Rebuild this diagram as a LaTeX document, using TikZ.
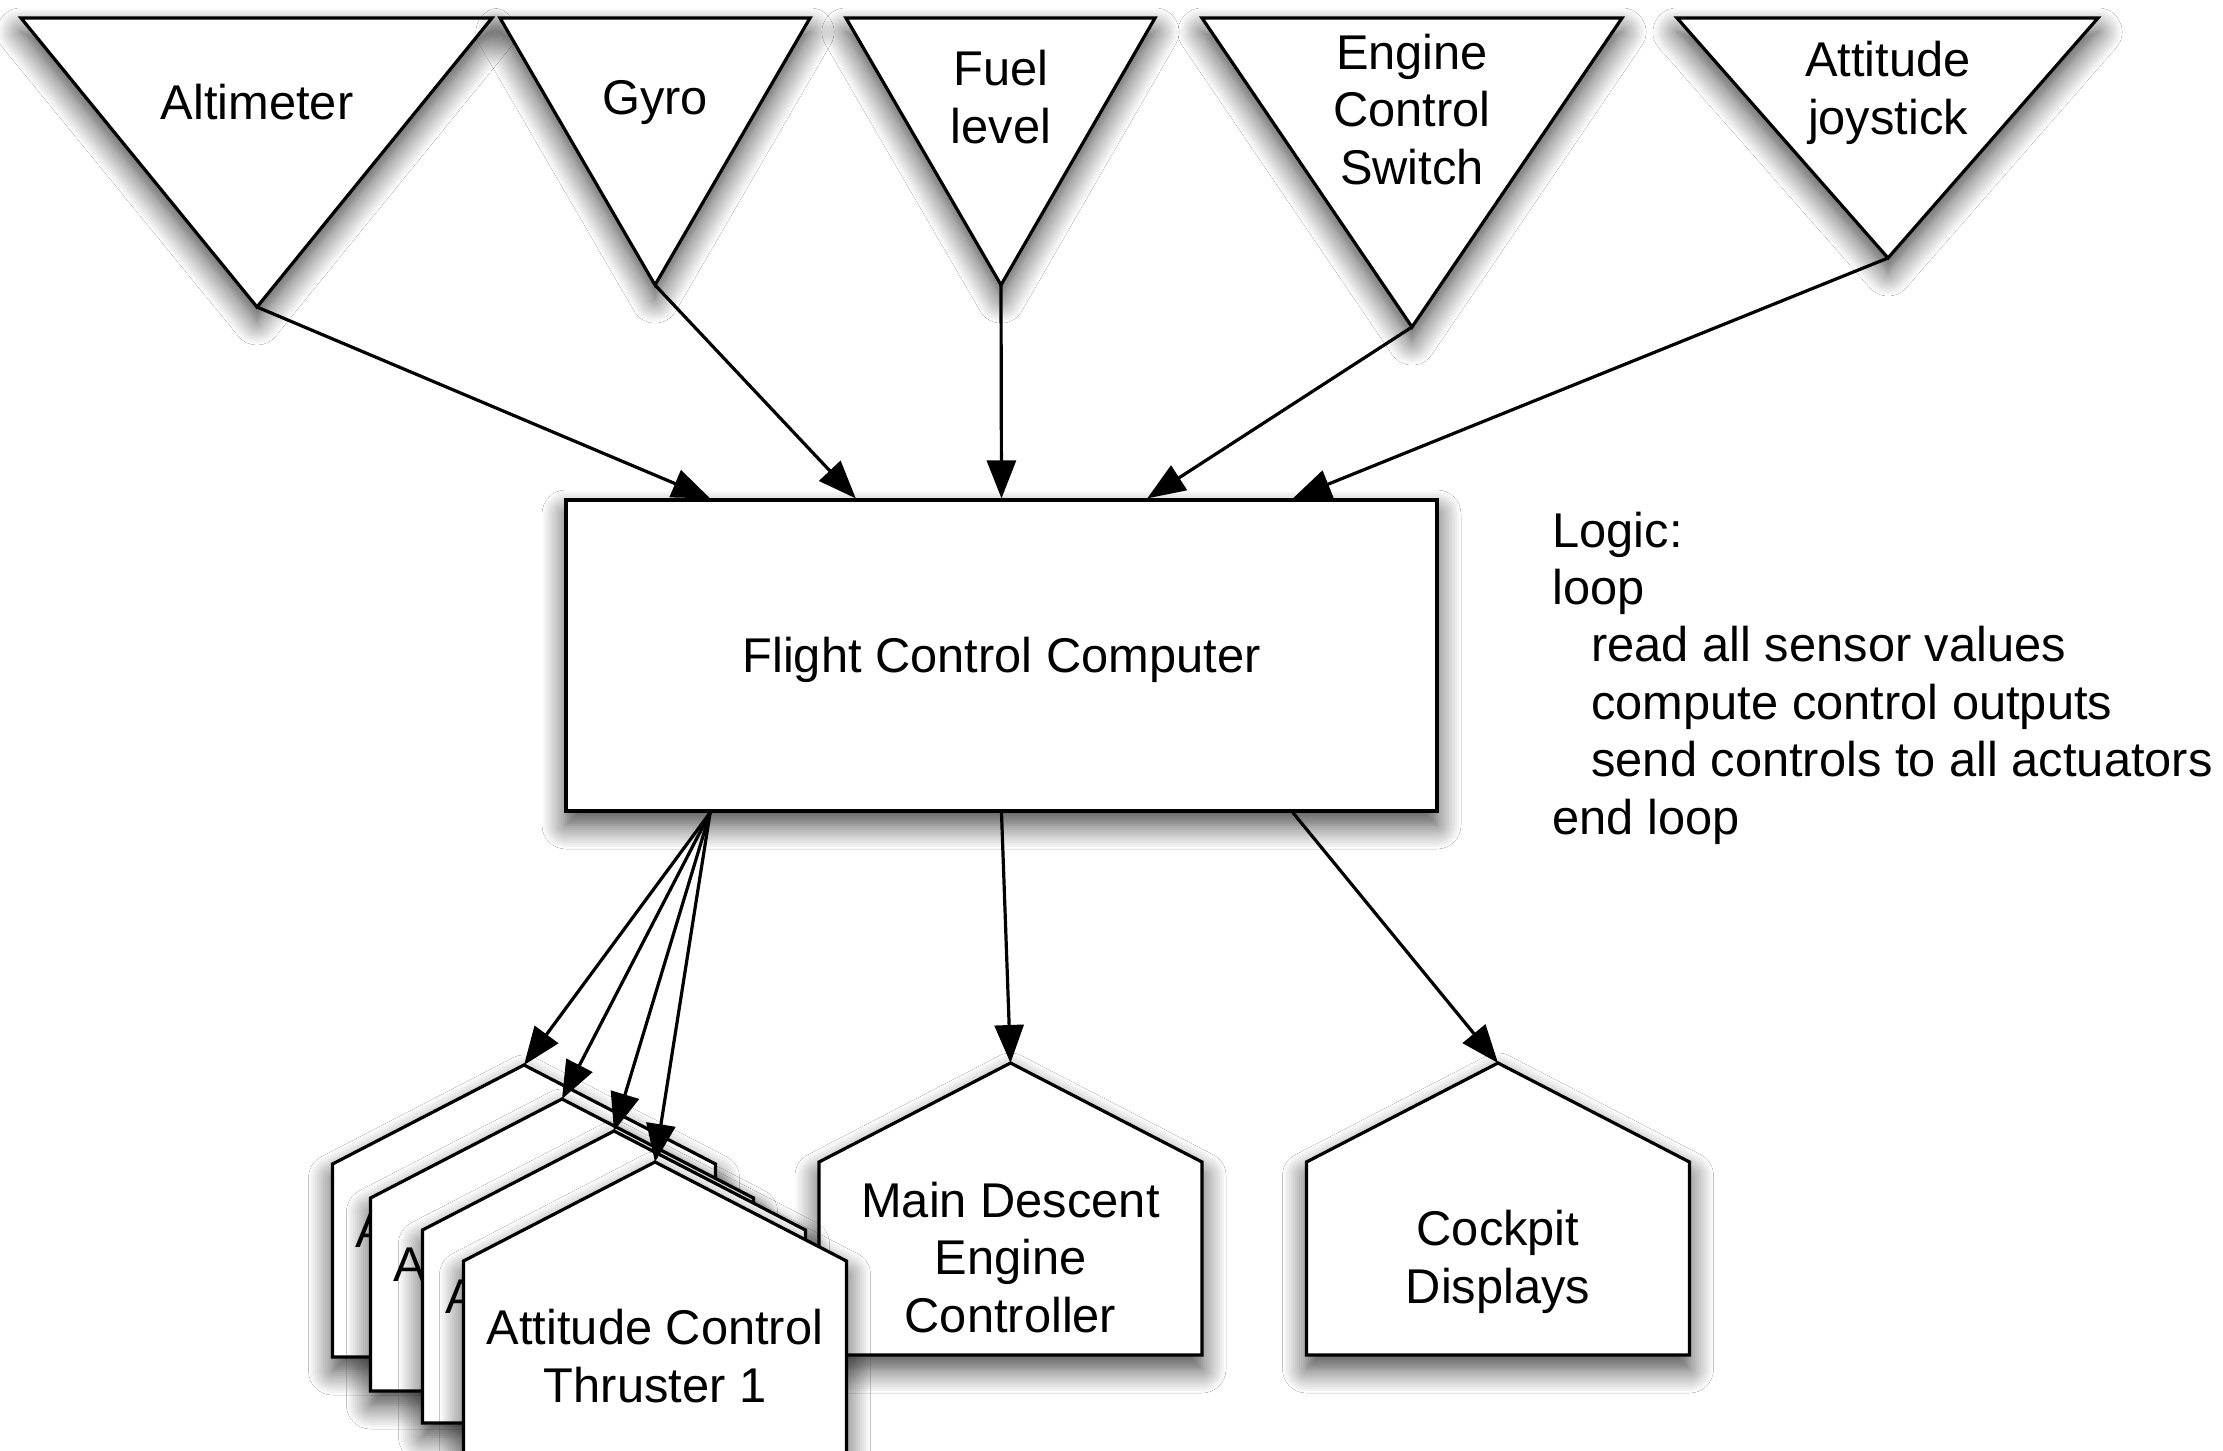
\documentclass[tikz,border=0pt]{standalone}
\usepackage{fontspec}
\setmainfont{Liberation Sans}
\usetikzlibrary{arrows.meta,calc,shadows.blur}

\tikzset{
  partbox/.style={draw=black, line width=1.6pt, fill=white, line join=miter,
    blur shadow={shadow xshift=0pt, shadow yshift=-7pt,
                 shadow blur radius=12pt, shadow blur steps=12, shadow opacity=75}},
  lbl/.style={font=\fontsize{24.4}{28.7}\selectfont, align=center, inner sep=0pt},
  arr/.style={draw=black, line width=1.6pt, -{Triangle[length=19pt,width=14.5pt]}},
}

% house-shaped actuator outline: name, apex point
\newcommand\hutoutline[2]{%
  \draw[partbox] (#2) coordinate (#1) -- ++(191.5,99) -- ++(0,193) -- ++(-383,0)
    -- ++(0,-193) -- cycle;}

\begin{document}
\begin{tikzpicture}[x=0.5pt,y=-0.5pt]
\useasboundingbox (0,0) rectangle (2223,1451);
\clip (0,0) rectangle (2223,1451);
\fill[white] (0,0) rectangle (2223,1451);

% sensors (inverted triangles); labels are placed by the baseline of their last line
\draw[partbox] (21,18) -- (492,18) -- (257,307) coordinate (alt) -- cycle;
\node[lbl, anchor=base] (altlbl) at (257,119) {Altimeter};

\draw[partbox] (500,18) -- (810,18) -- (655,285) coordinate (gyro) -- cycle;
\node[lbl, anchor=base] (gyrolbl) at (655,114) {Gyro};

\draw[partbox] (846,18) -- (1155,18) -- (1001,285) coordinate (fuel) -- cycle;
\node[lbl, anchor=base] (fuellbl) at (1001,143) {Fuel\\level};

\draw[partbox] (1202,18) -- (1622,18) -- (1412,327) coordinate (ecs) -- cycle;
\node[lbl, anchor=base] (ecslbl) at (1412,184) {Engine\\Control\\Switch};

\draw[partbox] (1677,18) -- (2098,18) -- (1888,258) coordinate (joy) -- cycle;
\node[lbl, anchor=base] (joylbl) at (1888,134) {Attitude\\joystick};

% flight computer
\node[partbox, minimum width=435.5pt, minimum height=155.5pt, inner sep=0pt]
  (fcc) at (1001.5,655.5) {};
\node[lbl, anchor=base] (fcclbl) at (1001.5,672) {Flight Control Computer};

% actuators
\hutoutline{mde}{1010.5,1063}
\node[lbl, anchor=base] (mdelbl) at ($(mde)+(0,269)$) {Main Descent\\Engine\\Controller};

\hutoutline{cpd}{1498,1063}
\node[lbl, anchor=base] (cpdlbl) at ($(cpd)+(0,240)$) {Cockpit\\Displays};

\hutoutline{thr4}{524,1065}
\node[lbl, anchor=base] (thr4lbl) at ($(thr4)+(0,240)$) {Attitude Control\\Thruster 4};
\hutoutline{thr3}{562,1099}
\node[lbl, anchor=base] (thr3lbl) at ($(thr3)+(0,240)$) {Attitude Control\\Thruster 3};
\hutoutline{thr2}{614,1131}
\node[lbl, anchor=base] (thr2lbl) at ($(thr2)+(0,240)$) {Attitude Control\\Thruster 2};
\hutoutline{thr1}{655,1162}
\node[lbl, anchor=base] (thr1lbl) at ($(thr1)+(0,240)$) {Attitude Control\\Thruster 1};

% sensor inputs
\draw[arr] (alt)  -- ($(fcc.north west)!0.1667!(fcc.north east)$);
\draw[arr] (gyro) -- ($(fcc.north west)!0.3333!(fcc.north east)$);
\draw[arr] (fuel) -- (fcc.north);
\draw[arr] (ecs)  -- ($(fcc.north west)!0.6667!(fcc.north east)$);
\draw[arr] (joy)  -- ($(fcc.north west)!0.8333!(fcc.north east)$);

% control outputs
\coordinate (throut) at ($(fcc.south west)!0.1667!(fcc.south east)$);
\draw[arr] (throut) -- (thr4);
\draw[arr] (throut) -- (thr3);
\draw[arr] (throut) -- (thr2);
\draw[arr] (throut) -- (thr1);
\draw[arr] (fcc.south) -- (mde);
\draw[arr] ($(fcc.south west)!0.8333!(fcc.south east)$) -- (cpd);

% control loop description
\node[lbl, align=left, anchor=base west] (logic) at (1552,834)
  {Logic:\\loop\\\hspace*{19.5pt}read all sensor values\\\hspace*{19.5pt}compute control outputs\\\hspace*{19.5pt}send controls to all actuators\\end loop};
\end{tikzpicture}
\end{document}
